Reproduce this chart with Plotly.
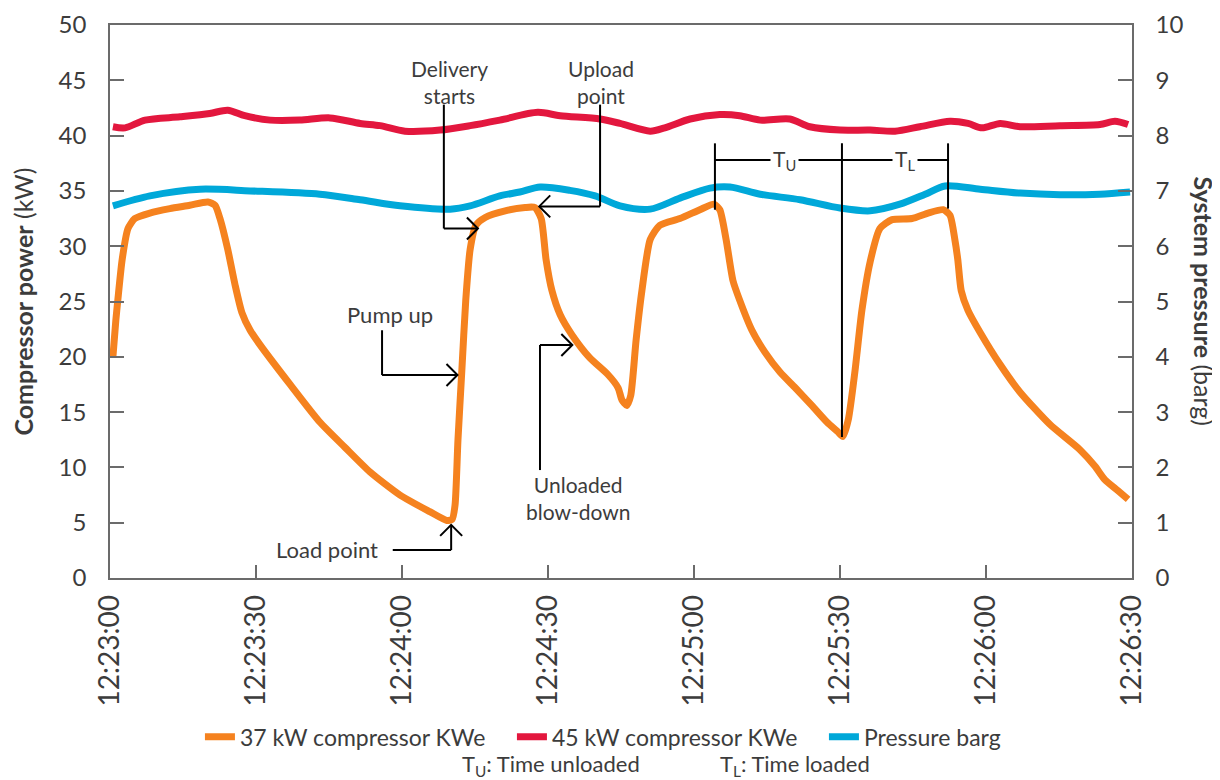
import plotly.graph_objects as go
import pandas as pd

BASE = pd.Timestamp("2024-01-01 12:23:00")

# ---- data (seconds after 12:23:00, values) ----
c37_t = [0.6, 1.2, 1.6, 2.5, 3.7, 5.1, 8.2, 12.3, 16.4, 20.1, 21.6, 22.6, 24.2, 25.7, 27.1, 28.8, 30.8,
         37.0, 43.1, 48.3, 53.4, 59.6, 65.7, 69.2, 70.3, 70.9, 71.5, 72.3, 73.1, 74.0, 75.2, 77.1, 81.2,
         85.3, 87.3, 88.6, 89.6, 90.8, 92.5, 94.9, 98.6, 102.3, 104.4, 105.2, 106.2, 107.0, 108.1, 109.3,
         111.0, 113.0, 117.1, 121.2, 124.1, 125.3, 126.6, 128.0, 129.4, 131.9, 134.6, 137.7, 140.8, 144.2,
         147.3, 149.6, 150.6, 151.7, 153.1, 154.5, 156.2, 158.2, 160.7, 164.8, 168.1, 171.2, 172.6, 173.6,
         174.2, 174.9, 176.3, 178.8, 182.9, 187.0, 193.1, 199.3, 202.4, 204.4, 207.1, 209.2]
c37_kw = [20.0, 23.3, 25.1, 28.8, 31.6, 32.5, 33.0, 33.4, 33.7, 34.0, 33.7, 32.5, 29.7, 26.5, 24.0, 22.4, 21.1,
          17.5, 14.1, 11.8, 9.6, 7.5, 6.0, 5.2, 5.3, 6.6, 12.5, 18.8, 25.1, 29.7, 31.9, 32.6, 33.2,
          33.5, 33.5, 32.5, 28.8, 26.0, 23.8, 22.0, 19.9, 18.4, 17.2, 16.1, 15.6, 16.5, 21.5, 26.0,
          30.6, 31.9, 32.5, 33.3, 33.8, 33.3, 30.6, 26.9, 25.1, 22.4, 20.4, 18.6, 17.2, 15.6,
          14.1, 13.2, 12.8, 14.3, 18.8, 24.2, 28.6, 31.6, 32.4, 32.5, 33.0, 33.3, 32.8, 30.6,
          28.8, 26.0, 24.2, 22.2, 19.3, 16.8, 13.9, 11.6, 10.1, 8.9, 7.9, 7.1]

c45_t = [0.6, 3.1, 7.2, 14.4, 20.5, 24.2, 27.7, 32.9, 39.0, 45.2, 51.4, 55.5, 60.6, 67.8, 74.0, 80.1, 87.9,
         92.5, 100.7, 104.8, 111.0, 114.0, 119.2, 125.3, 129.4, 133.6, 139.7, 143.8, 150.0, 156.2, 161.3,
         166.4, 172.6, 176.3, 179.2, 182.9, 187.0, 195.2, 203.4, 206.5, 209.2]
c45_kw = [40.8, 40.7, 41.4, 41.7, 42.0, 42.3, 41.8, 41.4, 41.4, 41.6, 41.1, 40.9, 40.4, 40.5, 40.9, 41.4, 42.1,
          41.8, 41.5, 41.1, 40.4, 40.7, 41.5, 41.9, 41.8, 41.4, 41.5, 40.8, 40.5, 40.5, 40.4,
          40.8, 41.3, 41.1, 40.7, 41.1, 40.8, 40.9, 41.0, 41.3, 41.0]

p_t = [0.6, 8.2, 18.5, 28.8, 43.1, 51.4, 59.6, 69.9, 74.0, 80.1, 84.2, 88.4, 94.5, 99.7, 104.8, 111.0,
       117.1, 123.3, 127.4, 133.6, 141.8, 150.0, 156.2, 162.3, 167.5, 171.6, 178.8, 187.0, 195.2, 203.4, 209.6]
p_barg = [6.73, 6.91, 7.03, 7.00, 6.94, 6.84, 6.73, 6.67, 6.73, 6.91, 6.98, 7.07, 7.01, 6.91, 6.73, 6.67,
          6.87, 7.05, 7.07, 6.94, 6.84, 6.69, 6.64, 6.76, 6.94, 7.09, 7.03, 6.96, 6.93, 6.94, 6.98]

tick_seconds = [0, 30, 60, 90, 120, 150, 180, 210]
series_names = ["37 kW compressor KWe", "45 kW compressor KWe", "Pressure barg"]
series_colors = ["#F5821F", "#E3173E", "#00A8D9"]


def ts(sec):
    return BASE + pd.Timedelta(seconds=sec)


def tsl(secs):
    return [ts(s) for s in secs]


FONT = "Lato"
TXT = "#3c3c3c"
AX = "#6b6b6b"

fig = go.Figure()
fig.add_trace(go.Scatter(x=tsl(c37_t), y=c37_kw, mode="lines", name=series_names[0],
                         line=dict(color=series_colors[0], width=7, shape="spline", smoothing=0.6)))
fig.add_trace(go.Scatter(x=tsl(c45_t), y=c45_kw, mode="lines", name=series_names[1],
                         line=dict(color=series_colors[1], width=7, shape="spline", smoothing=0.8)))
fig.add_trace(go.Scatter(x=tsl(p_t), y=p_barg, mode="lines", name=series_names[2], yaxis="y2",
                         line=dict(color=series_colors[2], width=7, shape="spline", smoothing=0.8)))

shapes = []


def seg(t0, y0, t1, y1):
    shapes.append(dict(type="line", xref="x", yref="y", x0=ts(t0), y0=y0, x1=ts(t1), y1=y1,
                       line=dict(color="black", width=2), layer="above"))


def chevron(t, y, direction):
    s = 11
    paths = {
        "right": f"M{-s},{s} L0,0 L{-s},{-s}",
        "left": f"M{s},{s} L0,0 L{s},{-s}",
        "up": f"M{-s},{-s} L0,0 L{s},{-s}",
    }
    shapes.append(dict(type="path", xref="x", yref="y", xsizemode="pixel", ysizemode="pixel",
                       xanchor=ts(t), yanchor=y, path=paths[direction],
                       line=dict(color="black", width=2), layer="above"))


# Delivery starts
seg(68.6, 42.8, 68.6, 31.6)
seg(68.6, 31.6, 75.6, 31.6)
chevron(75.6, 31.6, "right")
# Upload point
seg(100.7, 42.8, 100.7, 33.6)
seg(100.7, 33.6, 88.2, 33.6)
chevron(88.2, 33.6, "left")
# Pump up
seg(55.9, 22.4, 55.9, 18.35)
seg(55.9, 18.35, 71.4, 18.35)
chevron(71.4, 18.35, "right")
# Unloaded blow-down
seg(88.35, 9.76, 88.35, 21.07)
seg(88.35, 21.07, 95.0, 21.07)
chevron(95.0, 21.07, "right")
# Load point
seg(58.1, 2.53, 70.1, 2.53)
seg(70.1, 2.53, 70.1, 4.8)
chevron(70.1, 4.8, "up")
# Tu / Tl
seg(124.3, 39.3, 124.3, 33.3)
seg(150.4, 39.3, 150.4, 12.75)
seg(172.2, 39.3, 172.2, 33.4)
seg(124.3, 37.8, 172.2, 37.8)

annotations = []


def label(t, y, text, size=21, bg=None):
    d = dict(x=ts(t), y=y, xref="x", yref="y", text=text, showarrow=False,
             font=dict(family=FONT, size=size, color=TXT), align="center",
             xanchor="center", yanchor="middle")
    if bg:
        d.update(bgcolor=bg, borderpad=2)
    annotations.append(d)


label(69.7, 44.85, "Delivery<br>starts")
label(100.9, 44.85, "Upload<br>point")
label(57.5, 23.8, "Pump up", size=22)
label(96.2, 7.2, "Unloaded<br>blow-down")
label(44.6, 2.62, "Load point", size=22)
label(138.6, 37.8, "T<sub>U</sub>", size=21, bg="white")
label(163.3, 37.8, "T<sub>L</sub>", size=21, bg="white")

annotations.append(dict(x=-0.086, y=0.5, xref="paper", yref="paper", textangle=-90, showarrow=False,
                        xanchor="center", yanchor="middle",
                        text="<b>Compressor power</b> (kW)", font=dict(family=FONT, size=25, color=TXT)))
annotations.append(dict(x=1.0714, y=0.5, xref="paper", yref="paper", textangle=90, showarrow=False,
                        xanchor="center", yanchor="middle",
                        text="<b>System pressure</b> (barg)", font=dict(family=FONT, size=25, color=TXT)))
annotations.append(dict(x=0.4315, y=-0.338, xref="paper", yref="paper", showarrow=False,
                        xanchor="center", yanchor="middle",
                        text="T<sub>U</sub>: Time unloaded", font=dict(family=FONT, size=22, color=TXT)))
annotations.append(dict(x=0.670, y=-0.338, xref="paper", yref="paper", showarrow=False,
                        xanchor="center", yanchor="middle",
                        text="T<sub>L</sub>: Time loaded", font=dict(family=FONT, size=22, color=TXT)))

fig.update_layout(
    width=1212, height=772,
    margin=dict(l=102, r=88, t=17, b=202, autoexpand=False),
    paper_bgcolor="white", plot_bgcolor="white",
    font=dict(family=FONT, size=23, color=TXT),
    showlegend=True,
    legend=dict(orientation="h", x=0.088, xanchor="left", y=-0.287, yanchor="middle",
                font=dict(family=FONT, size=23, color=TXT), entrywidth=267, entrywidthmode="pixels"),
    xaxis=dict(type="date", range=[ts(0), ts(210)], tickvals=tsl(tick_seconds), tickformat="%H:%M:%S",
               tickangle=-90, ticks="inside", ticklen=13, tickcolor=AX, tickwidth=1.5,
               showline=True, linecolor=AX, linewidth=1.5, mirror=True, showgrid=False, zeroline=False,
               automargin=False, ticklabelstandoff=4,
               tickfont=dict(family=FONT, size=28, color=TXT)),
    yaxis=dict(range=[0, 50], dtick=5, ticks="inside", ticklen=14, tickcolor=AX, tickwidth=1.5,
               showline=True, linecolor=AX, linewidth=1.5, showgrid=False, zeroline=False,
               automargin=False, ticklabelstandoff=17,
               tickfont=dict(family=FONT, size=24, color=TXT)),
    yaxis2=dict(range=[0, 10], dtick=1, overlaying="y", side="right", ticks="inside", ticklen=14,
                tickcolor=AX, tickwidth=1.5, showline=True, linecolor=AX, linewidth=1.5,
                showgrid=False, zeroline=False, automargin=False, ticklabelstandoff=17,
                tickfont=dict(family=FONT, size=24, color=TXT)),
    shapes=shapes,
    annotations=annotations,
)

fig.write_html("out.html")
